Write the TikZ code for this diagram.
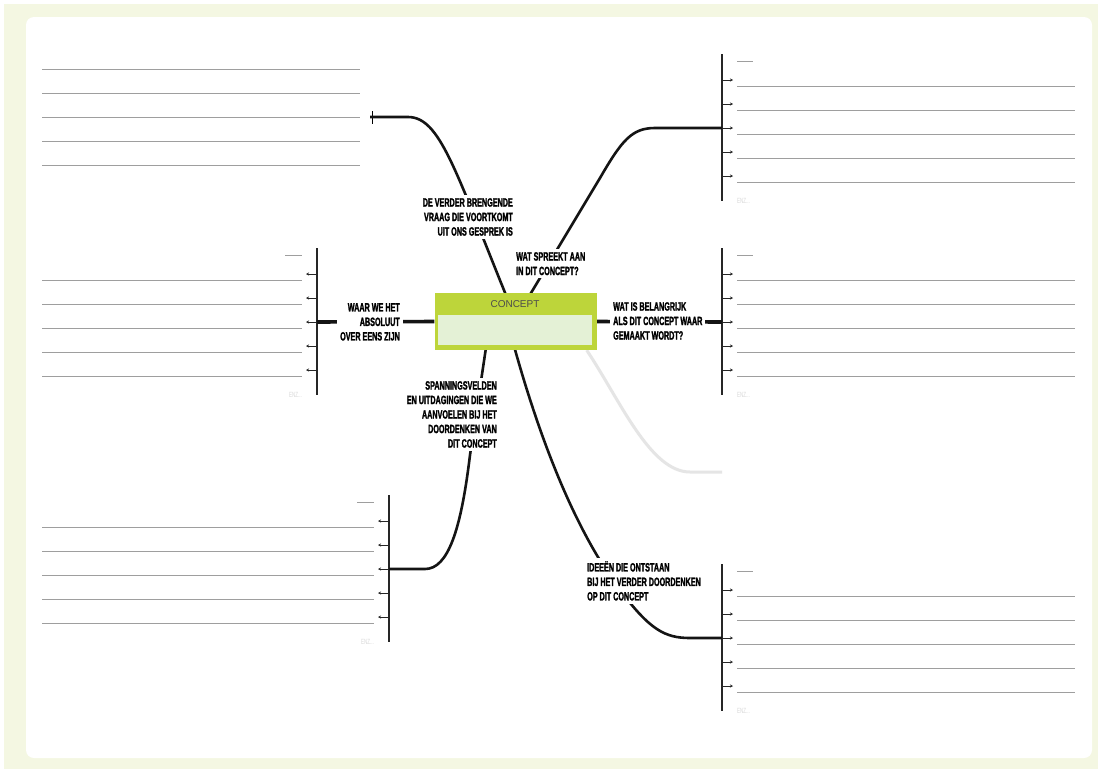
\documentclass[tikz,border=0pt]{standalone}
\usepackage{fontspec}
\setmainfont{Liberation Sans}
\newfontfamily\labelfont{Liberation Sans}[FakeStretch=0.6, BoldFeatures={FakeBold=1.6}]
\usetikzlibrary{arrows.meta}
\definecolor{paper}{RGB}{244,247,226}
\definecolor{lime}{RGB}{189,213,58}
\definecolor{limelight}{RGB}{228,241,214}
\newcommand\asktext{\labelfont\bfseries\fontsize{12}{14.5}\selectfont}
\newcommand\enztext{\labelfont\fontsize{7.5}{8}\selectfont}

\begin{document}
\begin{tikzpicture}[x=1pt, y=-1pt,
    branch/.style={line width=2.6pt, black!92},
    stub/.style={line width=3.6pt, black!92},
    faint/.style={line width=3pt, black!10},
    rule/.style={line width=1pt, black!38},
    bar/.style={line width=1.4pt, black!85},
    tick/.style={line width=0.9pt, black!85, -{Stealth[length=3pt,width=3pt]}},
    ask/.style={font=\asktext, fill=white, inner sep=3pt},
    enz/.style={font=\enztext, text=black!15, inner sep=0pt}]
  \useasboundingbox (0,0) rectangle (1098,769);
  \fill[paper] (4,4) rectangle (1098,769);
  \fill[white, rounded corners=8pt] (26,17) rectangle (1092,758);

  % forms on the right
  \foreach \y in {54,248,564} {
    \draw[bar] (722,\y) -- (722,\y+147);
    \draw[rule] (737,\y+7) -- (753,\y+7);
    \foreach \k in {0,...,4} {
      \draw[tick] (722,\y+26+24*\k) -- (733,\y+26+24*\k);
      \draw[rule] (737,\y+32+24*\k) -- (1075,\y+32+24*\k);
    }
    \node[enz, anchor=west] at (737,\y+147) {ENZ...};
  }
  % forms on the left
  \foreach \x/\y in {317/248,389/495} {
    \draw[bar] (\x,\y) -- (\x,\y+147);
    \draw[rule] (\x-32,\y+7) -- (\x-15,\y+7);
    \foreach \k in {0,...,4} {
      \draw[tick] (\x,\y+26+24*\k) -- (\x-11,\y+26+24*\k);
      \draw[rule] (42,\y+32+24*\k) -- (\x-15,\y+32+24*\k);
    }
    \node[enz, anchor=east] at (\x-15,\y+147) {ENZ...};
  }
  \foreach \y in {69,93,117,141,165} \draw[rule] (42,\y) -- (360,\y);
  \draw[line width=1pt] (372,111) -- (372,124);

  \coordinate (hubA) at (370,117);
  \coordinate (hubB) at (722,128);
  \coordinate (hubC) at (722,322);
  \coordinate (hubD) at (317,322);
  \coordinate (hubE) at (389,569);
  \coordinate (hubF) at (722,638);
  \coordinate (hubG) at (722,472);

  \node[minimum width=162, minimum height=57] (concept) at (515.5,321.5) {};

  \draw[faint] ([xshift=-10pt]concept.south east) .. controls (620,400) and (650,472) .. (690,472) -- (hubG);
  \draw[branch] (hubA) -- (408,117) .. controls (440,117) and (455,170) .. ([xshift=-8pt,yshift=-6pt]concept.north);
  \draw[branch] ([xshift=12pt,yshift=-6pt]concept.north) -- (600,178) .. controls (622,140) and (632,128) .. (655,128) -- (hubB);
  \draw[stub] (hubD) -- (concept.west);
  \draw[stub] (concept.east) -- (hubC);
  \draw[branch] ([xshift=-29pt,yshift=6pt]concept.south) -- (470,455) .. controls (461,530) and (448,569) .. (425,569) -- (hubE);
  \draw[branch] ([xshift=-2pt,yshift=6pt]concept.south) .. controls (540,440) and (575,530) .. (620,590) .. controls (650,630) and (665,638) .. (690,638) -- (hubF);

  \node[ask, align=right, anchor=north east] (further) at (516,195) {DE VERDER BRENGENDE\\VRAAG DIE VOORTKOMT\\UIT ONS GESPREK IS};
  \node[ask, align=left, anchor=north west] (appeal) at (513,249) {WAT SPREEKT AAN\\IN DIT CONCEPT?};
  \node[ask, align=right, anchor=north east] (agree) at (403,300) {WAAR WE HET\\ABSOLUUT\\OVER EENS ZIJN};
  \node[ask, align=left, anchor=north west] (matter) at (610,299) {WAT IS BELANGRIJK\\ALS DIT CONCEPT WAAR\\GEMAAKT WORDT?};
  \node[ask, align=right, anchor=north east] (tension) at (500,378) {SPANNINGSVELDEN\\EN UITDAGINGEN DIE WE\\AANVOELEN BIJ HET\\DOORDENKEN VAN\\DIT CONCEPT};
  \node[ask, align=left, anchor=north west] (ideas) at (584,558) {IDEEËN DIE ONTSTAAN\\BIJ HET VERDER DOORDENKEN\\OP DIT CONCEPT};

  \node[fill=lime, minimum width=162, minimum height=57] (frame) at (concept) {};
  \node[fill=limelight, minimum width=154, minimum height=30] (field) at (515,330) {};
  \node[font=\fontsize{10}{10}\selectfont, text=black!70] (title) at (515,304) {CONCEPT};
\end{tikzpicture}
\end{document}
